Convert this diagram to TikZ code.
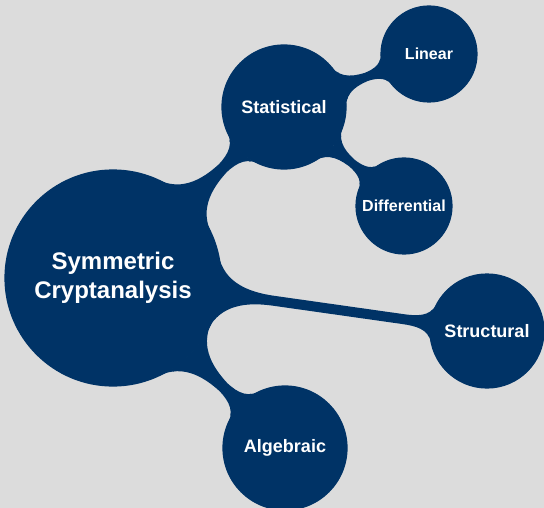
\documentclass[tikz,border=0pt]{standalone}
\usepackage{fontspec}
\setmainfont{Liberation Sans}
\usetikzlibrary{mindmap}
\definecolor{cryptblue}{RGB}{0,51,102}
\definecolor{bggray}{RGB}{220,220,220}
\tikzset{
  rootcirc/.style={concept, fill=cryptblue, text=white, minimum size=216pt, text width=190pt,
    align=center, inner sep=0pt, font=\fontsize{24}{29}\selectfont\bfseries},
  branchcirc/.style={concept, fill=cryptblue, text=white, minimum size=124pt, text width=110pt,
    align=center, inner sep=0pt, font=\fontsize{18}{22}\selectfont\bfseries},
  leafcirc/.style={concept, fill=cryptblue, text=white, minimum size=96pt, text width=90pt,
    align=center, inner sep=0pt, font=\fontsize{16}{19}\selectfont\bfseries},
  bar/.style={circle connection bar switch color=from (cryptblue) to (cryptblue)}
}
\begin{document}
\begin{tikzpicture}[x=1pt,y=1pt,yscale=-1,mindmap,concept color=cryptblue]
% background
\fill[bggray] (0,0) rectangle (544,508);
\useasboundingbox (0,0) rectangle (544,508);

% Concept nodes
\node[rootcirc] (root) at (113,278) {Symmetric\\Cryptanalysis};
\node[branchcirc] (stat) at (284,107) {Statistical};
\node[leafcirc] (lin) at (429,54) {Linear};
\node[leafcirc] (diff) at (404,206) {Differential};
\node[branchcirc, minimum size=114pt] (struct) at (487,331) {Structural};
\node[branchcirc] (alg) at (285,448) {Algebraic};

% Connections
\path (root) to[bar] (stat);
\path (root) to[bar] (struct);
\path (root) to[bar] (alg);
\path (stat) to[bar] (lin);
\path (stat) to[bar] (diff);

\end{tikzpicture}
\end{document}
